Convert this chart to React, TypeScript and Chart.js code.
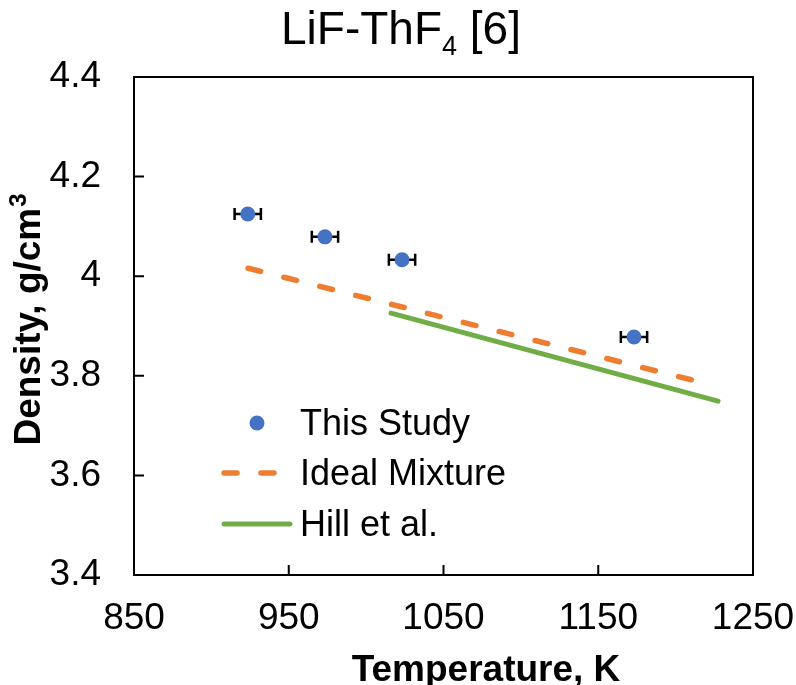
import React, { useEffect, useRef } from "react";
import { Chart, registerables } from "chart.js";

Chart.register(...registerables);

// ---- data ----
const studyT = [923.5, 973.4, 1023.2, 1173.1];
const studyRho = [4.125, 4.079, 4.033, 3.878];
const studyTErr = [8.5, 8.5, 8.5, 8.5];
const idealT = [923.7, 1216.5];
const idealRho = [4.016, 3.787];
const hillT = [1016.1, 1227.4];
const hillRho = [3.926, 3.749];
const xTicks = [850, 950, 1050, 1150, 1250];
const yTicks = [3.4, 3.6, 3.8, 4.0, 4.2, 4.4];
const seriesLabels = ["This Study", "Ideal Mixture", "Hill et al."];
const titleMain = "LiF-ThF";
const titleSub = "4";
const titleTail = " [6]";
const xTitle = "Temperature, K";
const yTitleMain = "Density, g/cm";
const yTitleSup = "3";

const FONT = "'Liberation Sans', Arial, Helvetica, sans-serif";
const BLUE = "#4472C4";
const ORANGE = "#ED7D31";
const GREEN = "#70AD47";

const fmt = (v: number) => String(Number(v.toFixed(1)));

const decor = {
  id: "decor",
  beforeDatasetsDraw(chart: any) {
    const { ctx, scales } = chart;
    const x = scales.x, y = scales.y;
    ctx.save();
    ctx.strokeStyle = "#000";
    ctx.lineWidth = 2.5;
    studyT.forEach((t, i) => {
      const py = y.getPixelForValue(studyRho[i]);
      const x1 = x.getPixelForValue(t - studyTErr[i]);
      const x2 = x.getPixelForValue(t + studyTErr[i]);
      ctx.beginPath();
      ctx.moveTo(x1, py);
      ctx.lineTo(x2, py);
      ctx.moveTo(x1, py - 6);
      ctx.lineTo(x1, py + 6);
      ctx.moveTo(x2, py - 6);
      ctx.lineTo(x2, py + 6);
      ctx.stroke();
    });
    ctx.restore();
  },
  afterDraw(chart: any) {
    const { ctx, chartArea: a, scales } = chart;
    const x = scales.x, y = scales.y;
    ctx.save();
    // frame top & right
    ctx.strokeStyle = "#000";
    ctx.lineWidth = 2;
    ctx.beginPath();
    ctx.moveTo(a.left, a.top);
    ctx.lineTo(a.right, a.top);
    ctx.lineTo(a.right, a.bottom);
    ctx.stroke();
    // inward ticks
    ctx.beginPath();
    xTicks.forEach((v) => {
      const px = x.getPixelForValue(v);
      ctx.moveTo(px, a.bottom);
      ctx.lineTo(px, a.bottom - 10);
    });
    yTicks.forEach((v) => {
      const py = y.getPixelForValue(v);
      ctx.moveTo(a.left, py);
      ctx.lineTo(a.left + 10, py);
    });
    ctx.stroke();

    // legend
    const ds = chart.data.datasets;
    const lx = 300;
    const rows = [423, 473, 524];
    ctx.font = `36px ${FONT}`;
    ctx.fillStyle = "#000";
    ctx.textAlign = "left";
    ctx.textBaseline = "middle";
    rows.forEach((ry, i) => {
      const d = ds[i];
      if (i === 0) {
        ctx.fillStyle = d.backgroundColor;
        ctx.beginPath();
        ctx.arc(257, ry, d.pointRadius, 0, Math.PI * 2);
        ctx.fill();
      } else {
        ctx.strokeStyle = d.borderColor;
        ctx.lineWidth = d.borderWidth;
        ctx.lineCap = "round";
        ctx.setLineDash(d.borderDash || []);
        ctx.beginPath();
        ctx.moveTo(224, ry);
        ctx.lineTo(290, ry);
        ctx.stroke();
        ctx.setLineDash([]);
      }
      ctx.fillStyle = "#000";
      ctx.fillText(seriesLabels[i], lx, ry + 2);
    });

    // chart title with subscript
    ctx.textBaseline = "alphabetic";
    const mainF = `46px ${FONT}`;
    const subF = `27px ${FONT}`;
    ctx.font = mainF;
    const w1 = ctx.measureText(titleMain).width;
    const w3 = ctx.measureText(titleTail).width;
    ctx.font = subF;
    const w2 = ctx.measureText(titleSub).width;
    const total = w1 + w2 + w3;
    let tx = 401 - total / 2;
    const base = 44;
    ctx.font = mainF;
    ctx.fillText(titleMain, tx, base);
    tx += w1;
    ctx.font = subF;
    ctx.fillText(titleSub, tx, base + 11);
    tx += w2;
    ctx.font = mainF;
    ctx.fillText(titleTail, tx, base);

    // axis titles
    ctx.font = `bold 37px ${FONT}`;
    ctx.textAlign = "center";
    ctx.fillText(xTitle, 486, 681);

    ctx.translate(40, 320);
    ctx.rotate(-Math.PI / 2);
    ctx.font = `bold 37px ${FONT}`;
    const m1 = ctx.measureText(yTitleMain).width;
    ctx.font = `bold 24px ${FONT}`;
    const m2 = ctx.measureText(yTitleSup).width;
    const start = -(m1 + m2) / 2;
    ctx.textAlign = "left";
    ctx.font = `bold 37px ${FONT}`;
    ctx.fillText(yTitleMain, start, 0);
    ctx.font = `bold 24px ${FONT}`;
    ctx.fillText(yTitleSup, start + m1 + 1, -14);
    ctx.restore();
  },
};

export default function App() {
  const ref = useRef<HTMLCanvasElement | null>(null);
  useEffect(() => {
    if (!ref.current) return;
    Chart.defaults.font.family = FONT;
    const chart = new Chart(ref.current, {
      type: "scatter",
      data: {
        datasets: [
          {
            label: seriesLabels[0],
            data: studyT.map((t, i) => ({ x: t, y: studyRho[i] })),
            backgroundColor: BLUE,
            borderColor: BLUE,
            pointRadius: 7.5,
            pointBorderWidth: 0,
            showLine: false,
          } as any,
          {
            label: seriesLabels[1],
            data: idealT.map((t, i) => ({ x: t, y: idealRho[i] })),
            borderColor: ORANGE,
            backgroundColor: ORANGE,
            borderWidth: 5.5,
            borderDash: [13, 24],
            borderCapStyle: "round",
            pointRadius: 0,
            showLine: true,
          },
          {
            label: seriesLabels[2],
            data: hillT.map((t, i) => ({ x: t, y: hillRho[i] })),
            borderColor: GREEN,
            backgroundColor: GREEN,
            borderWidth: 5,
            borderCapStyle: "round",
            pointRadius: 0,
            showLine: true,
          },
        ],
      },
      options: {
        animation: false,
        responsive: true,
        maintainAspectRatio: false,
        layout: { padding: { top: 77, right: 43, left: 0, bottom: 0 } },
        plugins: {
          legend: { display: false },
          title: { display: false },
          tooltip: { enabled: false },
        },
        scales: {
          x: {
            type: "linear",
            min: xTicks[0],
            max: xTicks[xTicks.length - 1],
            afterBuildTicks: (s: any) => {
              s.ticks = xTicks.map((v) => ({ value: v }));
            },
            afterFit: (s: any) => {
              s.height = 110;
              s.paddingLeft = 0;
              s.paddingRight = 0;
            },
            grid: { display: false, drawTicks: false },
            border: { display: true, color: "#000", width: 2 },
            ticks: {
              color: "#000",
              font: { size: 37 },
              padding: 22,
              maxRotation: 0,
              callback: (v: any) => String(v),
            },
          },
          y: {
            type: "linear",
            min: yTicks[0],
            max: yTicks[yTicks.length - 1],
            afterBuildTicks: (s: any) => {
              s.ticks = yTicks.map((v) => ({ value: v }));
            },
            afterFit: (s: any) => {
              s.width = 134;
              s.paddingTop = 0;
              s.paddingBottom = 0;
            },
            grid: { display: false, drawTicks: false },
            border: { display: true, color: "#000", width: 2 },
            ticks: {
              color: "#000",
              font: { size: 37 },
              padding: 33,
              callback: (v: any) => fmt(Number(v)),
            },
          },
        },
      },
      plugins: [decor],
    });
    return () => chart.destroy();
  }, []);
  return (
    <div style={{ position: "absolute", left: 0, top: 0, width: 796, height: 685, background: "#fff" }}>
      <canvas ref={ref} />
    </div>
  );
}
